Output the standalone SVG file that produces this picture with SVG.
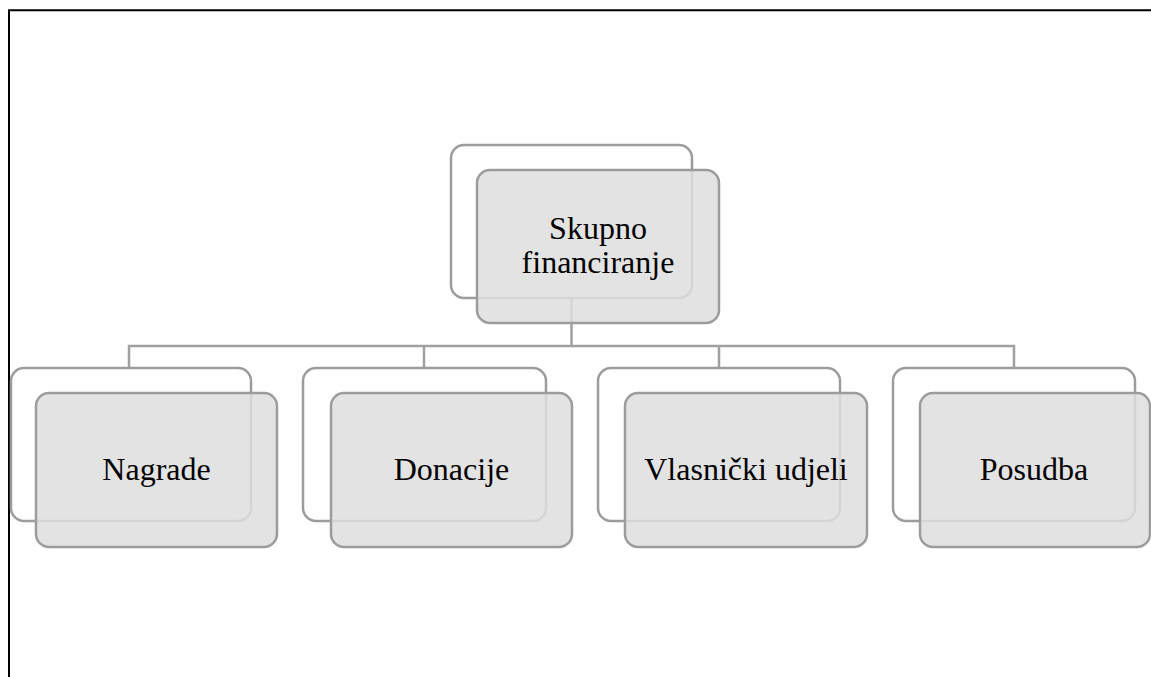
<svg xmlns="http://www.w3.org/2000/svg" width="1151" height="677" viewBox="0 0 1151 677">
<style>
.back{fill:#ffffff;stroke:#9c9c9c;stroke-width:2.5}
.front{fill:#dedede;fill-opacity:0.85;stroke:#9c9c9c;stroke-width:2.5}
.conn{fill:none;stroke:#a0a0a0;stroke-width:2.5}
.lbl{font-family:"Liberation Serif","Times New Roman",serif;font-size:32px;fill:#000;text-anchor:middle}
</style>
<rect width="1151" height="677" fill="#ffffff"/>
<g id="border" fill="none" stroke="#000" stroke-width="2">
<path d="M9 677 V10.3 H1151"/>
</g>
<g id="connectors" class="conn">
<path d="M571.5 298 V346"/>
<path d="M129 367 V346 H1014 V367"/>
<path d="M424 346 V367"/>
<path d="M719 346 V367"/>
</g>
<g id="node-root">
<rect class="back" x="451" y="145" width="241" height="153" rx="13"/>
<rect class="front" x="477" y="170" width="242" height="153" rx="13"/>
<text class="lbl" x="598" y="239">Skupno</text>
<text class="lbl" x="598" y="273">financiranje</text>
</g>
<g id="node-nagrade">
<rect class="back" x="11" y="368" width="240" height="153" rx="13"/>
<rect class="front" x="36" y="393" width="241" height="154" rx="13"/>
<text class="lbl" x="156.5" y="480">Nagrade</text>
</g>
<g id="node-donacije">
<rect class="back" x="303" y="368" width="243" height="153" rx="13"/>
<rect class="front" x="331" y="393" width="241" height="154" rx="13"/>
<text class="lbl" x="451.5" y="480">Donacije</text>
</g>
<g id="node-vlasnicki">
<rect class="back" x="598" y="368" width="242" height="153" rx="13"/>
<rect class="front" x="625" y="393" width="242" height="154" rx="13"/>
<text class="lbl" x="746" y="480">Vlasnički udjeli</text>
</g>
<g id="node-posudba">
<rect class="back" x="893" y="368" width="242" height="153" rx="13"/>
<rect class="front" x="920" y="393" width="230" height="154" rx="13"/>
<text class="lbl" x="1034" y="480">Posudba</text>
</g>
</svg>
